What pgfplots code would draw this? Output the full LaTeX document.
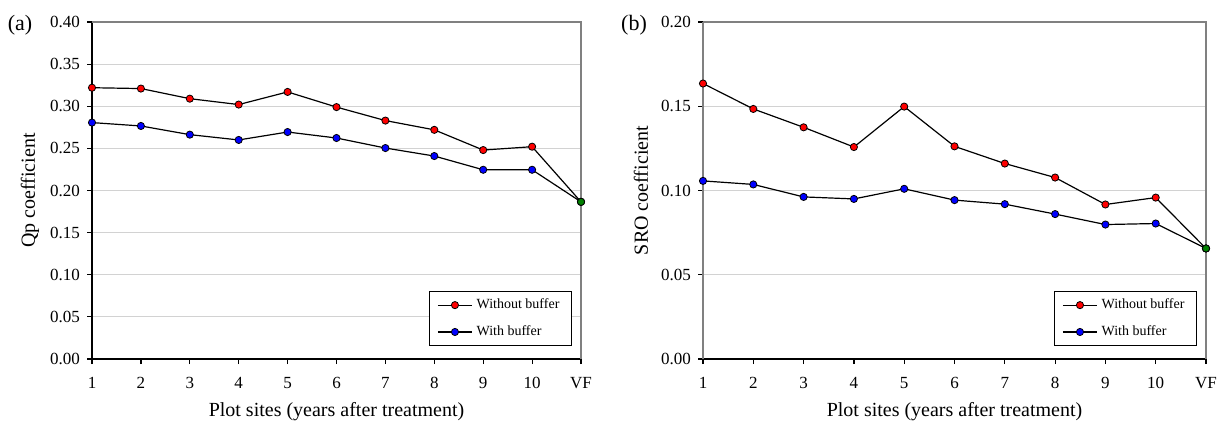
\documentclass[border=0pt]{standalone}
\usepackage{fontspec}
\setmainfont{Liberation Serif}
\usepackage{pgfplots}
\pgfplotsset{compat=1.18}
\definecolor{mred}{RGB}{255,0,0}
\definecolor{mblue}{RGB}{0,0,255}
\definecolor{mgreen}{RGB}{0,128,0}
\definecolor{frame}{RGB}{128,128,128}
\pgfplotsset{mystyle/.style={
  scale only axis, height=168.5pt,
  xmin=1, xmax=11, xtick={1,2,3,4,5,6,7,8,9,10,11},
  xticklabels={1,2,3,4,5,6,7,8,9,10,VF},
  axis x line*=bottom, axis y line*=left,
  axis line style={line width=0.6pt},
  tick align=outside, major tick length=2.5pt,
  tick style={black, line width=0.6pt},
  ymajorgrids, grid style={gray!35, line width=0.6pt},
  tick label style={font=\fontsize{8.5}{10}\selectfont},
  /pgf/number format/assume math mode=true,
  yticklabel style={/pgf/number format/.cd, fixed, fixed zerofill, precision=2},
  xticklabel style={yshift=-3pt},
  label style={font=\fontsize{9.5}{11}\selectfont},
  xlabel={Plot sites (years after treatment)},
  every axis x label/.style={at={(rel axis cs:0.5,0)}, anchor=center, yshift=-26.5pt},
  every axis y label/.style={at={(rel axis cs:0,0.5)}, xshift=-31pt, rotate=90, anchor=center},
  legend style={at={(rel axis cs:1,0)}, anchor=south east, xshift=-4.5pt, yshift=6.5pt,
    draw=black, line width=0.6pt, font=\fontsize{7}{8.4}\selectfont, row sep=3pt,
    inner xsep=4pt, inner ysep=1.5pt},
  legend cell align=left,
  every axis plot/.append style={line width=0.6pt},
  clip=false,
}}
\begin{document}
\begin{tikzpicture}
\path[use as bounding box] (0,0) rectangle (610pt,212pt);
\node at (10pt,199.5pt) {\fontsize{11}{13}\selectfont (a)};
\node at (317pt,199.5pt) {\fontsize{11}{13}\selectfont (b)};
\begin{axis}[mystyle, at={(46pt,32.5pt)}, anchor=south west, width=244.5pt,
  ymin=0, ymax=0.4, ytick={0,0.05,0.10,0.15,0.20,0.25,0.30,0.35,0.40},
  ylabel={Qp coefficient}]
\addplot[black, mark=*, mark options={fill=mred, draw=black, line width=0.4pt}, mark size=1.8pt]
  coordinates {(1,0.322) (2,0.321) (3,0.309) (4,0.302) (5,0.317) (6,0.299) (7,0.283) (8,0.272) (9,0.248) (10,0.252) (11,0.1865)};
\addlegendentry{Without buffer}
\addplot[black, mark=*, mark options={fill=mblue, draw=black, line width=0.4pt}, mark size=1.8pt]
  coordinates {(1,0.2806) (2,0.2766) (3,0.2663) (4,0.260) (5,0.2694) (6,0.2623) (7,0.2504) (8,0.2409) (9,0.2246) (10,0.2246) (11,0.1865)};
\addlegendentry{With buffer}
\addplot[only marks, mark=*, mark options={fill=mgreen, draw=black, line width=0.4pt}, mark size=1.8pt, forget plot]
  coordinates {(11,0.1865)};
\draw[frame, line width=0.6pt] (rel axis cs:0,1) -- (rel axis cs:1,1) -- (rel axis cs:1,0);
\end{axis}
\begin{axis}[mystyle, at={(351.5pt,32.5pt)}, anchor=south west, width=251.5pt,
  ymin=0, ymax=0.2, ytick={0,0.05,0.10,0.15,0.20},
  ylabel={SRO coefficient}, y axis line style={frame}]
\addplot[black, mark=*, mark options={fill=mred, draw=black, line width=0.4pt}, mark size=1.8pt]
  coordinates {(1,0.1635) (2,0.1484) (3,0.1375) (4,0.1258) (5,0.1498) (6,0.1262) (7,0.1160) (8,0.1077) (9,0.0917) (10,0.0958) (11,0.0656)};
\addlegendentry{Without buffer}
\addplot[black, mark=*, mark options={fill=mblue, draw=black, line width=0.4pt}, mark size=1.8pt]
  coordinates {(1,0.1057) (2,0.1036) (3,0.0962) (4,0.0950) (5,0.1010) (6,0.0943) (7,0.0919) (8,0.0860) (9,0.0798) (10,0.0804) (11,0.0656)};
\addlegendentry{With buffer}
\addplot[only marks, mark=*, mark options={fill=mgreen, draw=black, line width=0.4pt}, mark size=1.8pt, forget plot]
  coordinates {(11,0.0656)};
\draw[frame, line width=0.6pt] (rel axis cs:0,1) -- (rel axis cs:1,1) -- (rel axis cs:1,0);
\end{axis}
\end{tikzpicture}
\end{document}
